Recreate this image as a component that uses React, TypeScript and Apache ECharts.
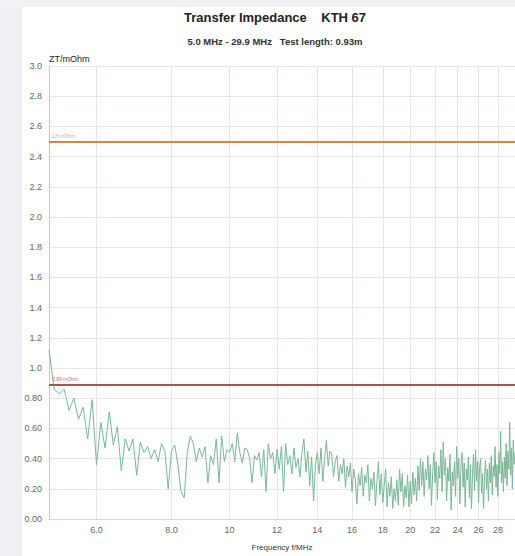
import React, { useEffect, useRef } from "react";
import * as echarts from "echarts";

const titleText = "Transfer Impedance    KTH 67";
const subtitleText = "5.0 MHz - 29.9 MHz   Test length: 0.93m";
const yAxisName = "ZT/mOhm";
const xAxisName = "Frequency f/MHz";

// frequency sweep: 5.0 MHz .. 29.9 MHz, step 0.1 MHz
const freqStart = 5.0;
const freqStep = 0.1;
const freqMin = 5.0;
const freqMax = 29.9;
const xTickFreqs = [6, 8, 10, 12, 14, 16, 18, 20, 22, 24, 26, 28];

const limitUpper = 2.5;
const limitLower = 0.89;
const limitUpperLabel = "2.5 mOhm";
const limitLowerLabel = "0.89 mOhm";

// ZT in mOhm, one value per sweep step
const ztValues = [
  1.12, 0.86, 0.83, 0.86, 0.72, 0.8, 0.66, 0.74, 0.53, 0.79,
  0.36, 0.64, 0.47, 0.71, 0.49, 0.61, 0.32, 0.53, 0.45, 0.53,
  0.29, 0.51, 0.44, 0.48, 0.4, 0.46, 0.38, 0.5, 0.45, 0.2,
  0.45, 0.49, 0.36, 0.18, 0.14, 0.44, 0.55, 0.5, 0.38, 0.47,
  0.41, 0.48, 0.24, 0.42, 0.36, 0.53, 0.24, 0.55, 0.38, 0.46,
  0.44, 0.5, 0.38, 0.57, 0.44, 0.37, 0.47, 0.46, 0.4, 0.24,
  0.42, 0.39, 0.44, 0.28, 0.46, 0.18, 0.5, 0.4, 0.44, 0.3,
  0.46, 0.33, 0.48, 0.18, 0.5, 0.36, 0.42, 0.3, 0.47, 0.34,
  0.4, 0.28, 0.44, 0.53, 0.31, 0.45, 0.22, 0.41, 0.12, 0.36,
  0.44, 0.3, 0.47, 0.25, 0.4, 0.52, 0.35, 0.45, 0.43, 0.28,
  0.38, 0.42, 0.25, 0.36, 0.3, 0.4, 0.21, 0.35, 0.28, 0.37,
  0.18, 0.33, 0.26, 0.1, 0.3, 0.22, 0.34, 0.15, 0.29, 0.24,
  0.36, 0.12, 0.27, 0.2, 0.31, 0.09, 0.25, 0.38, 0.16, 0.3,
  0.11, 0.22, 0.33, 0.08, 0.24, 0.15, 0.28, 0.07, 0.2, 0.12,
  0.26, 0.09, 0.33, 0.18, 0.3, 0.08, 0.22, 0.14, 0.29, 0.08,
  0.25, 0.1, 0.31, 0.16, 0.27, 0.12, 0.35, 0.19, 0.4, 0.22,
  0.38, 0.15, 0.33, 0.26, 0.42, 0.2, 0.36, 0.09, 0.3, 0.44,
  0.24, 0.38, 0.13, 0.35, 0.27, 0.46, 0.18, 0.51, 0.29, 0.4,
  0.12, 0.34, 0.25, 0.43, 0.06, 0.31, 0.22, 0.38, 0.15, 0.48,
  0.27, 0.4, 0.1, 0.35, 0.44, 0.21, 0.37, 0.08, 0.33, 0.26,
  0.41, 0.14, 0.36, 0.07, 0.29, 0.43, 0.19, 0.46, 0.25, 0.38,
  0.11, 0.34, 0.4, 0.17, 0.3, 0.07, 0.28, 0.39, 0.2, 0.33,
  0.12, 0.37, 0.24, 0.42, 0.16, 0.35, 0.28, 0.48, 0.21, 0.36,
  0.15, 0.44, 0.3, 0.58, 0.24, 0.38, 0.18, 0.41, 0.27, 0.5,
  0.22, 0.45, 0.33, 0.64, 0.29, 0.47, 0.2, 0.52, 0.36, 0.44,
];

const frequencies = ztValues.map((_, i) => Number((freqStart + i * freqStep).toFixed(1)));

const FONT = "Liberation Sans, Arial, sans-serif";

export default function App() {
  const ref = useRef<HTMLDivElement>(null);
  useEffect(() => {
    if (!ref.current) return;
    const chart = echarts.init(ref.current, null, { renderer: "svg" });
    const data = frequencies.map((f, i) => [Math.log10(f), ztValues[i]]);
    const fmtFreq = (v: number) => {
      const f = Math.round(Math.pow(10, v) * 10) / 10;
      return f < 10 ? f.toFixed(1) : f.toFixed(0);
    };
    chart.setOption({
      animation: false,
      backgroundColor: "#ffffff",
      textStyle: { fontFamily: FONT },
      graphic: [
        { type: "rect", shape: { x: 0, y: 0, width: 22, height: 556 }, style: { fill: "#eef0f3" }, silent: true, z: -10 },
        { type: "rect", shape: { x: 0, y: 0, width: 515, height: 7 }, style: { fill: "#f1f2f4" }, silent: true, z: -10 },
        {
          type: "text",
          x: 275,
          y: 17,
          style: { text: titleText, align: "center", verticalAlign: "middle", fontSize: 13, fontWeight: "bold", fontFamily: FONT, fill: "#222" },
        },
        {
          type: "text",
          x: 275,
          y: 41,
          style: { text: subtitleText, align: "center", verticalAlign: "middle", fontSize: 9.5, fontWeight: "bold", fontFamily: FONT, fill: "#333" },
        },
      ],
      grid: { left: 49, top: 66, width: 472, height: 458, containLabel: false },
      xAxis: {
        type: "value",
        min: Math.log10(freqMin),
        max: Math.log10(freqMax),
        name: xAxisName,
        nameLocation: "middle",
        nameGap: 24,
        nameTextStyle: { fontSize: 8, color: "#333", fontFamily: FONT },
        axisLine: { show: true, lineStyle: { color: "#e2d2d2", width: 1 } },
        axisTick: { show: false, customValues: xTickFreqs.map((f) => Math.log10(f)) },
        axisLabel: {
          customValues: xTickFreqs.map((f) => Math.log10(f)),
          formatter: fmtFreq,
          fontSize: 9,
          color: "#666",
          margin: 6,
          fontFamily: FONT,
        },
        splitLine: { show: true, lineStyle: { color: "#ece4e4", width: 1 } },
      },
      yAxis: {
        type: "value",
        min: 0,
        max: 3.0,
        interval: 0.2,
        name: yAxisName,
        nameLocation: "end",
        nameGap: 3,
        nameTextStyle: { fontSize: 9, color: "#222", align: "left", fontFamily: FONT },
        axisLine: { show: true, lineStyle: { color: "#dcc0b4", width: 1 } },
        axisTick: { show: false },
        axisLabel: {
          formatter: (v: number) => (v < 0.99 ? v.toFixed(2) : v.toFixed(1)),
          fontSize: 9,
          color: "#666",
          margin: 7,
          fontFamily: FONT,
        },
        splitLine: { show: true, lineStyle: { color: "#ece4e4", width: 1 } },
      },
      series: [
        {
          type: "line",
          data,
          showSymbol: false,
          symbol: "none",
          lineStyle: { color: "#79b896", width: 1 },
          markLine: {
            silent: true,
            symbol: "none",
            data: [
              {
                yAxis: limitUpper,
                lineStyle: { color: "#de8435", width: 2, type: "solid" },
                label: { formatter: limitUpperLabel, position: "insideStartTop", fontSize: 5, color: "#e3a46e", distance: 3 },
              },
              {
                yAxis: limitLower,
                lineStyle: { color: "#b24f55", width: 2, type: "solid" },
                label: { formatter: limitLowerLabel, position: "insideStartTop", fontSize: 5, color: "#c46a6e", distance: 3 },
              },
            ],
          },
        },
      ],
    });
    return () => chart.dispose();
  }, []);
  return <div ref={ref} style={{ position: "fixed", left: 0, top: 0, width: 515, height: 556 }} />;
}
